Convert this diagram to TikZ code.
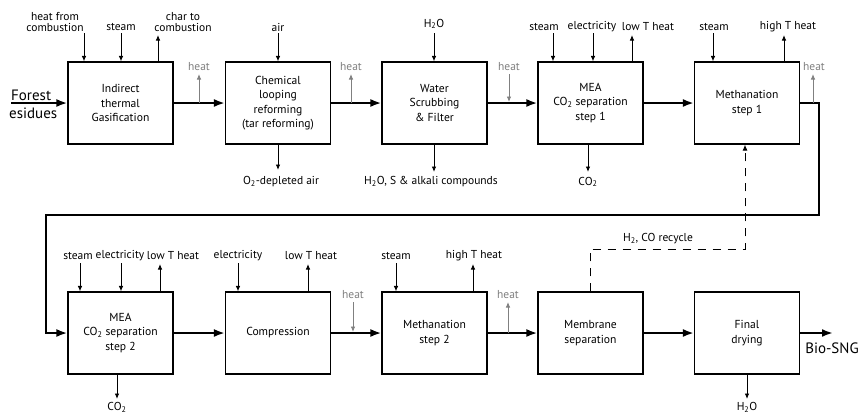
\documentclass[tikz,border=0pt]{standalone}
\usepackage{fontspec}
\setmainfont{PT Sans}
\usetikzlibrary{arrows.meta}
\begin{document}
\begin{tikzpicture}[x=1pt,y=-1pt,
 box/.style={draw, line width=1.1pt, minimum width=105pt, minimum height=82pt, align=center, inner sep=0pt, font=\fontsize{11.6}{14.5}\selectfont},
 lbl/.style={align=center, inner sep=0pt, font=\fontsize{11.5}{10.5}\selectfont},
 hl/.style={lbl, text=black!50},
 big/.style={inner sep=0pt, font=\fontsize{15}{14}\selectfont},
 mainflow/.style={line width=2.2pt, -{Latex[length=11pt,width=8pt]}},
 thinarr/.style={line width=0.9pt, -{Latex[length=5.5pt,width=4.5pt]}},
 hotarr/.style={thinarr, draw=black!50},
 recyc/.style={line width=1pt, dash pattern=on 8pt off 7pt, -{Latex[length=6pt,width=5pt]}}]
\useasboundingbox (0,0) rectangle (860,416);

% top row boxes
\node[box] (b1) at (120.5,103) {Indirect\\thermal\\Gasification};
\node[box] (b2) at (278,103) {Chemical\\looping\\reforming\\(tar reforming)};
\node[box] (b3) at (434.5,103) {Water\\Scrubbing\\\& Filter};
\node[box] (b4) at (590.5,103) {MEA\\CO\textsubscript{2} separation\\step 1};
\node[box] (b5) at (747,103) {Methanation\\step 1};
% bottom row boxes
\node[box] (c1) at (120.5,333) {MEA\\CO\textsubscript{2} separation\\step 2};
\node[box] (c2) at (278,333) {Compression};
\node[box] (c3) at (434.5,333) {Methanation\\step 2};
\node[box] (c4) at (590.5,333) {Membrane\\separation};
\node[box] (c5) at (747,333) {Final\\drying};

% main flow
\node[big, anchor=west] (fr) at (11,95) {Forest};
\node[big, anchor=west] (es) at (9,113) {esidues};
\coordinate (fin) at (11,103);
\draw[mainflow] (fin) -- (b1.west);
\draw[mainflow] (b1) -- (b2);
\draw[mainflow] (b2) -- (b3);
\draw[mainflow] (b3) -- (b4);
\draw[mainflow] (b4) -- (b5);
\coordinate (ta) at (819,103);
\coordinate (tb) at (819,215);
\coordinate (tc) at (46,215);
\coordinate (td) at (46,333);
\draw[mainflow] (b5.east) -- (ta) -- (tb) -- (tc) -- (td) -- (c1.west);
\draw[mainflow] (c1) -- (c2);
\draw[mainflow] (c2) -- (c3);
\draw[mainflow] (c3) -- (c4);
\draw[mainflow] (c4) -- (c5);
\coordinate (bio) at (833,333);
\draw[mainflow] (c5.east) -- (bio);
\node[big] (biol) at (832,348) {Bio-SNG};

% box 1
\node[lbl] (l11) at (55,22) {heat from\\combustion};
\coordinate (a11) at (84,33);
\draw[thinarr] (a11) -- (a11 |- b1.north);
\node[lbl] (l12) at (121,27) {steam};
\coordinate (a12) at (121,33);
\draw[thinarr] (a12) -- (a12 |- b1.north);
\node[lbl] (l13) at (183,22) {char to\\combustion};
\coordinate (a13) at (158,35);
\draw[thinarr] (a13 |- b1.north) -- (a13);
\coordinate (h1a) at (199,103);
\coordinate (h1b) at (199,74);
\draw[hotarr] (h1a) -- (h1b);
\node[hl] (h1) at (199,67) {heat};

% box 2
\node[lbl] (l21) at (278,27) {air};
\coordinate (a21) at (278,33);
\draw[thinarr] (a21) -- (a21 |- b2.north);
\coordinate (a22) at (278,170);
\draw[thinarr] (b2.south) -- (a22);
\node[lbl] (l22) at (281,182) {O\textsubscript{2}-depleted air};
\coordinate (h2a) at (351,103);
\coordinate (h2b) at (351,74);
\draw[hotarr] (h2a) -- (h2b);
\node[hl] (h2) at (351,67) {heat};

% box 3
\node[lbl] (l31) at (434,24) {H\textsubscript{2}O};
\coordinate (a31) at (434,33);
\draw[thinarr] (a31) -- (a31 |- b3.north);
\coordinate (a32) at (434,172);
\draw[thinarr] (a32 |- b3.south) -- (a32);
\node[lbl] (l32) at (431,182) {H\textsubscript{2}O, S \& alkali compounds};
\coordinate (h3a) at (509,74);
\coordinate (h3b) at (509,102);
\draw[hotarr] (h3a) -- (h3b);
\node[hl] (h3) at (509,67) {heat};

% box 4
\node[lbl] (l41) at (544,27) {steam};
\coordinate (a41) at (553,33);
\draw[thinarr] (a41) -- (a41 |- b4.north);
\node[lbl] (l42) at (592,27) {electricity};
\coordinate (a42) at (593,33);
\draw[thinarr] (a42) -- (a42 |- b4.north);
\node[lbl] (l43) at (648,27) {low T heat};
\coordinate (a43) at (632,35);
\draw[thinarr] (a43 |- b4.north) -- (a43);
\coordinate (a44) at (588,172);
\draw[thinarr] (a44 |- b4.south) -- (a44);
\node[lbl] (l44) at (588,182) {CO\textsubscript{2}};

% box 5
\node[lbl] (l51) at (714,27) {steam};
\coordinate (a51) at (713,33);
\draw[thinarr] (a51) -- (a51 |- b5.north);
\node[lbl] (l52) at (788,27) {high T heat};
\coordinate (a52) at (784,35);
\draw[thinarr] (a52 |- b5.north) -- (a52);
\coordinate (h5a) at (813,103);
\coordinate (h5b) at (813,74);
\draw[hotarr] (h5a) -- (h5b);
\node[hl] (h5) at (814,67) {heat};

% bottom box 1
\node[lbl] (m11) at (78,256) {steam};
\coordinate (d11) at (80,263);
\draw[thinarr] (d11) -- (d11 |- c1.north);
\node[lbl] (m12) at (120,256) {electricity};
\coordinate (d12) at (121,263);
\draw[thinarr] (d12) -- (d12 |- c1.north);
\node[lbl] (m13) at (173,256) {low T heat};
\coordinate (d13) at (160,264);
\draw[thinarr] (d13 |- c1.north) -- (d13);
\coordinate (d14) at (117,399);
\draw[thinarr] (d14 |- c1.south) -- (d14);
\node[lbl] (m14) at (117,407) {CO\textsubscript{2}};

% bottom box 2
\node[lbl] (m21) at (238,256) {electricity};
\coordinate (d21) at (238,263);
\draw[thinarr] (d21) -- (d21 |- c2.north);
\node[lbl] (m22) at (311,256) {low T heat};
\coordinate (d22) at (308,264);
\draw[thinarr] (d22 |- c2.north) -- (d22);
\coordinate (g2a) at (353,302);
\coordinate (g2b) at (353,332);
\draw[hotarr] (g2a) -- (g2b);
\node[hl] (g2) at (353,295) {heat};

% bottom box 3
\node[lbl] (m31) at (396,256) {steam};
\coordinate (d31) at (396,263);
\draw[thinarr] (d31) -- (d31 |- c3.north);
\node[lbl] (m32) at (474,256) {high T heat};
\coordinate (d32) at (473,264);
\draw[thinarr] (d32 |- c3.north) -- (d32);
\coordinate (g3a) at (508,333);
\coordinate (g3b) at (508,302);
\draw[hotarr] (g3a) -- (g3b);
\node[hl] (g3) at (508,295) {heat};

% bottom box 4: recycle
\coordinate (r1) at (590,249);
\coordinate (r2) at (745,249);
\draw[recyc] (r1 |- c4.north) -- (r1) -- (r2) -- (r2 |- b5.south);
\node[lbl] (rl) at (658,239) {H\textsubscript{2}, CO recycle};

% bottom box 5
\coordinate (d51) at (747,399);
\draw[thinarr] (d51 |- c5.south) -- (d51);
\node[lbl] (m51) at (747,407) {H\textsubscript{2}O};
\end{tikzpicture}
\end{document}
